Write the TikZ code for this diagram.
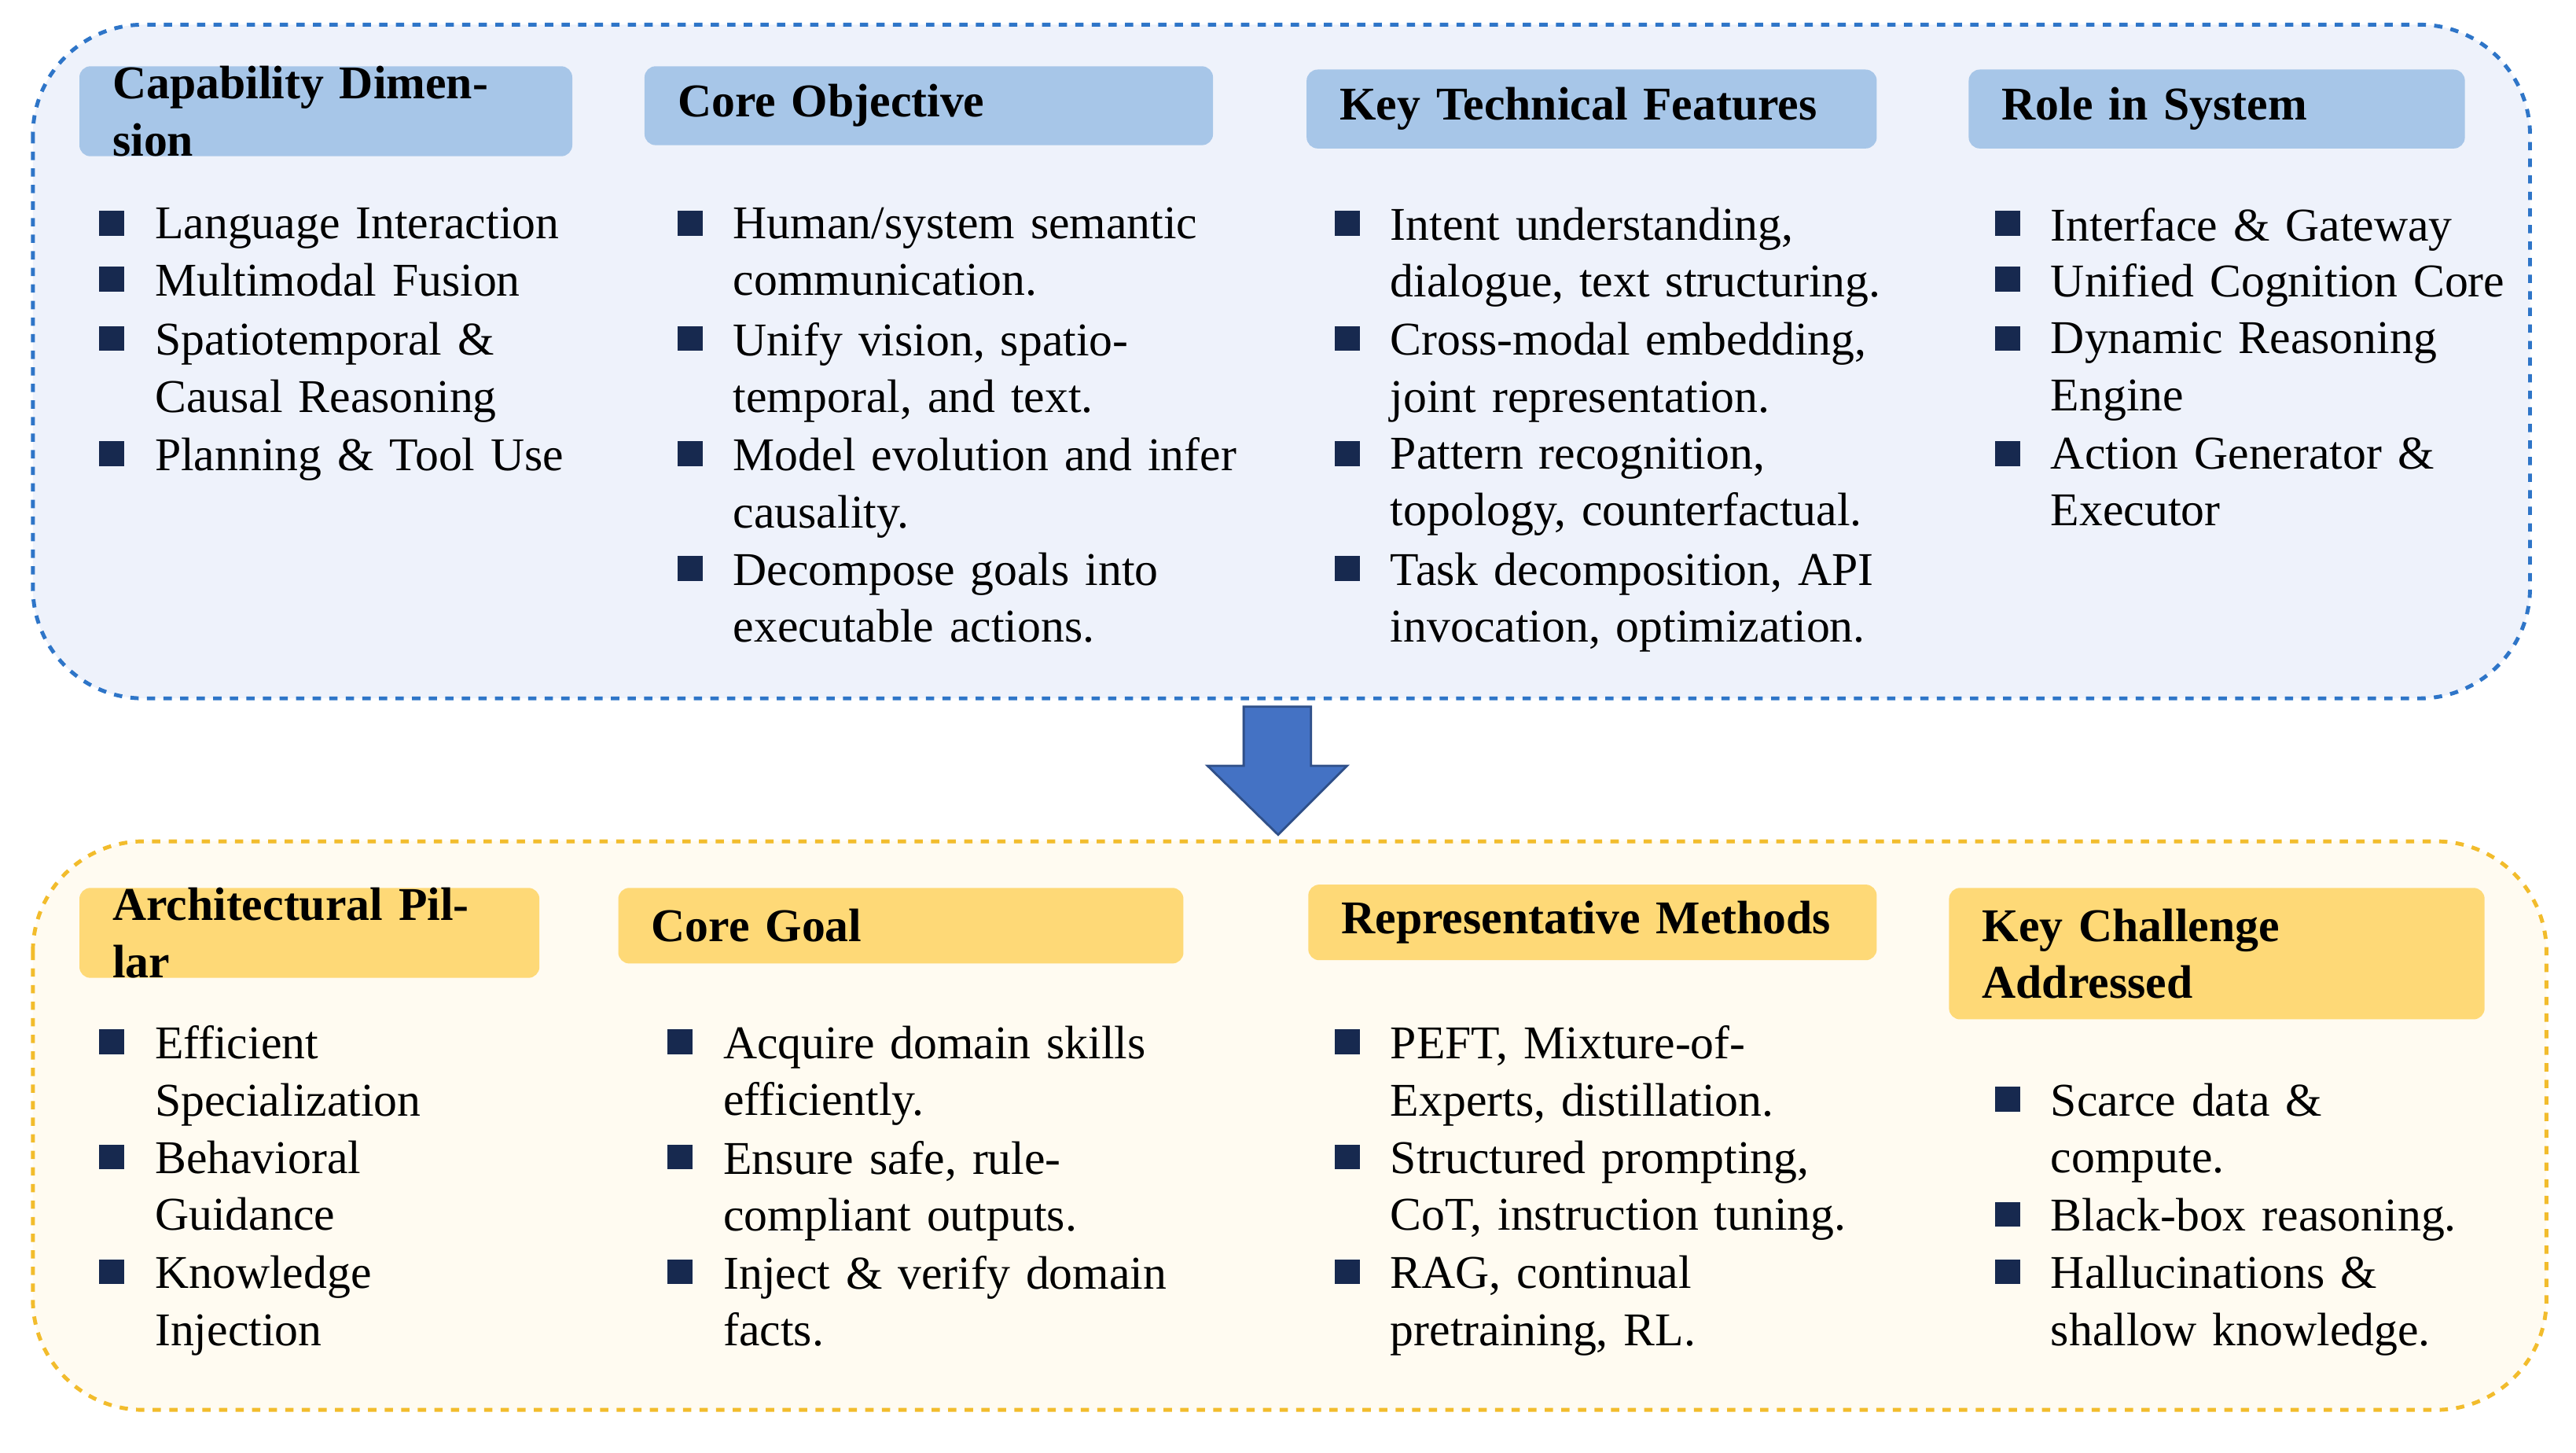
\documentclass[tikz,border=0pt]{standalone}
\usepackage{fontspec}
\setmainfont{Liberation Serif}
\usetikzlibrary{positioning}
\definecolor{topFill}{HTML}{EEF2FB}
\definecolor{topLine}{HTML}{2E75C8}
\definecolor{topHead}{HTML}{A7C6E8}
\definecolor{botFill}{HTML}{FFFBF1}
\definecolor{botLine}{HTML}{F2BC2C}
\definecolor{botHead}{HTML}{FED977}
\definecolor{bulletBlue}{HTML}{17294F}
\definecolor{arrowBlue}{HTML}{4472C4}
\newcommand\bodyfont{\fontsize{17}{20.6}\selectfont}
\tikzset{
  panel/.style={draw,dashed,line width=1.4pt,rounded corners=40pt},
  head/.style={rounded corners=4pt,anchor=north west,inner xsep=12pt,inner ysep=0pt,
    font=\bodyfont\bfseries,align=left},
  bsq/.style={fill=bulletBlue,minimum size=9pt,inner sep=0pt},
  itm/.style={anchor=north west,inner sep=0pt,align=left,text width=#1},
  itm/.default=7cm
}
% bullet: name, bullet x, line y, text width, text
\newcommand\bitem[5]{%
  \node[bsq] (#1s) at (#2,#3) {};
  \node[itm=#4] (#1) at (#2+26,#3-10) {#5};}
% header: name, x, y, width, height, fill, text
\newcommand\headbox[7]{%
  \node[head,fill=#6,text width=#4*0.0209cm-24pt,minimum height=#5*0.0209cm] (#1) at (#2,#3) {#7};}
\begin{document}
\begin{tikzpicture}[x=0.0209cm,y=-0.0209cm,font=\bodyfont]
\useasboundingbox (0,0) rectangle (1568,884);
% top panel
\draw[panel,draw=topLine,fill=topFill] (20,15) rectangle (1540,425);
\headbox{h1}{48}{40}{300}{48}{topHead}{Capability Dimension}
\headbox{h2}{392}{40}{346}{48}{topHead}{Core Objective}
\headbox{h3}{795}{42}{347}{48}{topHead}{Key Technical Features}
\headbox{h4}{1198}{42}{302}{48}{topHead}{Role in System}
\bitem{a1}{68}{136}{6cm}{Language Interaction}
\bitem{a2}{68}{170}{6cm}{Multimodal Fusion}
\bitem{a3}{68}{206}{6cm}{Spatiotemporal \&\\Causal Reasoning}
\bitem{a4}{68}{276}{6cm}{Planning \& Tool Use}
\bitem{b1}{420}{136}{7cm}{Human/system semantic\\communication.}
\bitem{b2}{420}{206}{7cm}{Unify vision, spatio-\\temporal, and text.}
\bitem{b3}{420}{276}{7cm}{Model evolution and infer\\causality.}
\bitem{b4}{420}{346}{7cm}{Decompose goals into\\executable actions.}
\bitem{c1}{820}{136}{7cm}{Intent understanding,\\dialogue, text structuring.}
\bitem{c2}{820}{206}{7cm}{Cross-modal embedding,\\joint representation.}
\bitem{c3}{820}{276}{7cm}{Pattern recognition,\\topology, counterfactual.}
\bitem{c4}{820}{346}{7cm}{Task decomposition, API\\invocation, optimization.}
\bitem{d1}{1222}{136}{7cm}{Interface \& Gateway}
\bitem{d2}{1222}{170}{7cm}{Unified Cognition Core}
\bitem{d3}{1222}{206}{7cm}{Dynamic Reasoning\\Engine}
\bitem{d4}{1222}{276}{7cm}{Action Generator \&\\Executor}
% arrow
\coordinate (tip) at (778,508);
\filldraw[fill=arrowBlue,draw=arrowBlue!70!black,line width=0.8pt]
  (757,430) -- (798,430) -- (798,466) -- (820,466) -- (tip) -- (735,466) -- (757,466) -- cycle;
% bottom panel
\draw[panel,draw=botLine,fill=botFill] (20,512) rectangle (1550,858);
\headbox{g1}{48}{540}{280}{46}{botHead}{Architectural Pillar}
\headbox{g2}{376}{540}{344}{46}{botHead}{Core Goal}
\headbox{g3}{796}{538}{346}{46}{botHead}{Representative Methods}
\headbox{g4}{1186}{540}{326}{80}{botHead}{Key Challenge\\Addressed}
\bitem{e1}{68}{634}{6cm}{Efficient\\Specialization}
\bitem{e2}{68}{704}{6cm}{Behavioral\\Guidance}
\bitem{e3}{68}{774}{6cm}{Knowledge\\Injection}
\bitem{f1}{414}{634}{7cm}{Acquire domain skills\\efficiently.}
\bitem{f2}{414}{704}{7cm}{Ensure safe, rule-\\compliant outputs.}
\bitem{f3}{414}{774}{7cm}{Inject \& verify domain\\facts.}
\bitem{k1}{820}{634}{7cm}{PEFT, Mixture-of-\\Experts, distillation.}
\bitem{k2}{820}{704}{7cm}{Structured prompting,\\CoT, instruction tuning.}
\bitem{k3}{820}{774}{7cm}{RAG, continual\\pretraining, RL.}
\bitem{m1}{1222}{669}{7cm}{Scarce data \&\\compute.}
\bitem{m2}{1222}{739}{7cm}{Black-box reasoning.}
\bitem{m3}{1222}{774}{7cm}{Hallucinations \&\\shallow knowledge.}
\end{tikzpicture}
\end{document}
